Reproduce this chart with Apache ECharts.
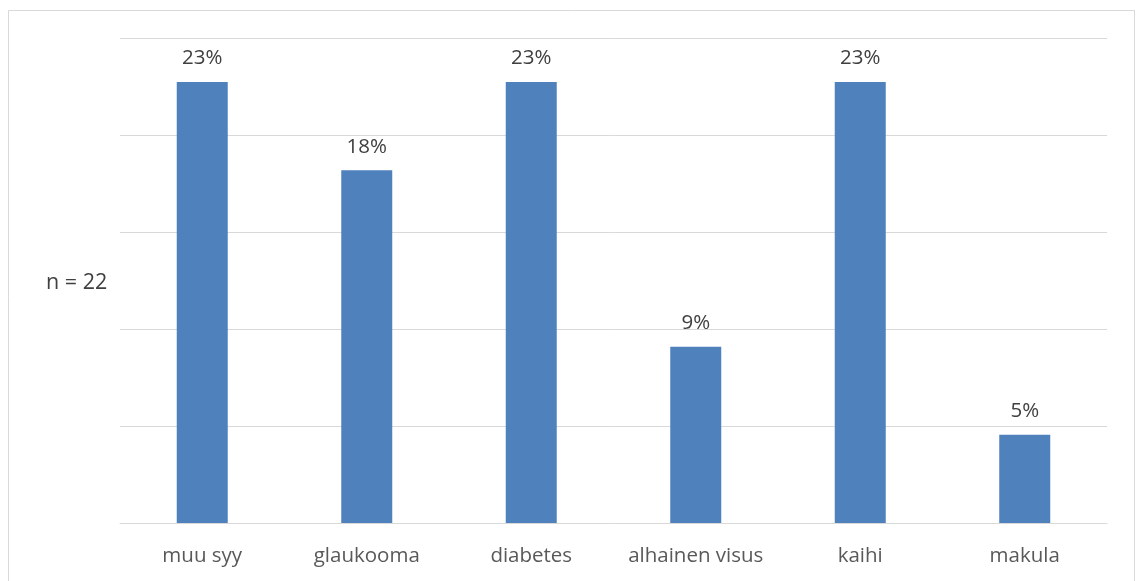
<!DOCTYPE html>
<html>
<head>
<meta charset="utf-8">
<script src="https://cdn.jsdelivr.net/npm/echarts@6/dist/echarts.min.js"></script>
<style>
  html, body { margin: 0; padding: 0; background: #fff; }
  #chart { width: 1136px; height: 581px; }
</style>
</head>
<body>
<div id="chart"></div>
<script>
// Syyt (n = 22): number of respondents per cause
const categories = ['muu syy', 'glaukooma', 'diabetes', 'alhainen visus', 'kaihi', 'makula'];
const counts = [5, 4, 5, 2, 5, 1];
const total = 22;
const shares = counts.map(c => c / total * 100);

const chart = echarts.init(document.getElementById('chart'));
const font = 'Open Sans, Liberation Sans, sans-serif';

chart.setOption({
  animation: false,
  grid: { left: 120, right: 29, top: 38, bottom: 58, containLabel: false },
  graphic: [{
    type: 'rect',
    shape: { x: 8.5, y: 10.5, width: 1126, height: 600 },
    style: { fill: 'none', stroke: '#d9d9d9', lineWidth: 1 },
    silent: true
  }, {
    type: 'text',
    x: 46, y: 283,
    style: { text: 'n = 22', fontSize: 21.5, fill: '#404040', fontFamily: font, verticalAlign: 'middle' }
  }],
  xAxis: {
    type: 'category',
    data: categories,
    axisLine: { lineStyle: { color: '#d9d9d9', width: 1 } },
    axisTick: { show: false },
    axisLabel: { color: '#595959', fontSize: 20.5, fontFamily: font, margin: 23, interval: 0 }
  },
  yAxis: {
    type: 'value',
    min: 0, max: 25, interval: 5,
    axisLabel: { show: false },
    axisLine: { show: false },
    axisTick: { show: false },
    splitLine: { lineStyle: { color: '#d9d9d9', width: 1 } }
  },
  series: [{
    type: 'bar',
    data: shares,
    barWidth: '31%',
    itemStyle: { color: '#4f81bd' },
    label: {
      show: true,
      position: 'top',
      distance: 13,
      color: '#404040',
      fontSize: 20.5,
      fontFamily: font,
      formatter: p => Math.round(p.value) + '%'
    }
  }]
});
</script>
</body>
</html>
